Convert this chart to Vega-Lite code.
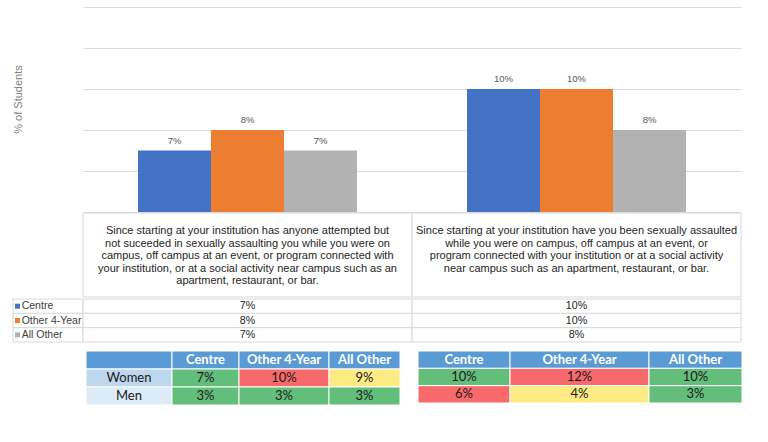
{
  "$schema": "https://vega.github.io/schema/vega-lite/v6.json",
  "padding": {"left": 12, "top": 7, "right": 10, "bottom": 10},
  "background": "white",
  "config": {"view": {"stroke": null}, "font": "Liberation Sans"},
  "datasets": {
    "bars": [
      {"question": "Q1", "group": "Centre", "value": 0.07},
      {"question": "Q1", "group": "Other 4-Year", "value": 0.08},
      {"question": "Q1", "group": "All Other", "value": 0.07},
      {"question": "Q2", "group": "Centre", "value": 0.10},
      {"question": "Q2", "group": "Other 4-Year", "value": 0.10},
      {"question": "Q2", "group": "All Other", "value": 0.08}
    ],
    "questions": [
      {"question": "Q1", "text": "Since starting at your institution has anyone attempted but\nnot suceeded in sexually assaulting you while you were on\ncampus, off campus at an event, or program connected with\nyour institution, or at a social activity near campus such as an\napartment, restaurant, or bar."},
      {"question": "Q2", "text": "Since starting at your institution have you been sexually assaulted\nwhile you were on campus, off campus at an event, or\nprogram connected with your institution or at a social activity\nnear campus such as an apartment, restaurant, or bar."}
    ],
    "groups": [{"group": "Centre"}, {"group": "Other 4-Year"}, {"group": "All Other"}],
    "cells": [
      {"tbl": "L", "col": "label", "row": "header", "label": "", "status": "header"},
      {"tbl": "L", "col": "label", "row": "Women", "label": "Women", "status": "labelW"},
      {"tbl": "L", "col": "label", "row": "Men", "label": "Men", "status": "labelM"},
      {"tbl": "L", "col": "Centre", "row": "header", "label": "Centre", "status": "header"},
      {"tbl": "L", "col": "Centre", "row": "Women", "label": "7%", "status": "green"},
      {"tbl": "L", "col": "Centre", "row": "Men", "label": "3%", "status": "green"},
      {"tbl": "L", "col": "Other 4-Year", "row": "header", "label": "Other 4-Year", "status": "header"},
      {"tbl": "L", "col": "Other 4-Year", "row": "Women", "label": "10%", "status": "red"},
      {"tbl": "L", "col": "Other 4-Year", "row": "Men", "label": "3%", "status": "green"},
      {"tbl": "L", "col": "All Other", "row": "header", "label": "All Other", "status": "header"},
      {"tbl": "L", "col": "All Other", "row": "Women", "label": "9%", "status": "yellow"},
      {"tbl": "L", "col": "All Other", "row": "Men", "label": "3%", "status": "green"},
      {"tbl": "R", "col": "Centre", "row": "header", "label": "Centre", "status": "header"},
      {"tbl": "R", "col": "Centre", "row": "Women", "label": "10%", "status": "green"},
      {"tbl": "R", "col": "Centre", "row": "Men", "label": "6%", "status": "red"},
      {"tbl": "R", "col": "Other 4-Year", "row": "header", "label": "Other 4-Year", "status": "header"},
      {"tbl": "R", "col": "Other 4-Year", "row": "Women", "label": "12%", "status": "red"},
      {"tbl": "R", "col": "Other 4-Year", "row": "Men", "label": "4%", "status": "yellow"},
      {"tbl": "R", "col": "All Other", "row": "header", "label": "All Other", "status": "header"},
      {"tbl": "R", "col": "All Other", "row": "Women", "label": "10%", "status": "green"},
      {"tbl": "R", "col": "All Other", "row": "Men", "label": "3%", "status": "green"}
    ]
  },
  "spacing": 0,
  "bounds": "full",
  "vconcat": [
    {
      "spacing": 0, "bounds": "flush",
      "hconcat": [
        {"width": 70, "height": 205, "data": {"values": [{}]}, "mark": {"type": "point", "opacity": 0}},
        {
          "width": 658, "height": 205,
          "data": {"name": "bars"},
          "encoding": {
            "x": {"field": "question", "type": "nominal", "scale": {"domain": ["Q1", "Q2"], "paddingInner": 0.3344, "paddingOuter": 0.1672}, "axis": null},
            "xOffset": {"field": "group", "type": "nominal", "scale": {"domain": ["Centre", "Other 4-Year", "All Other"], "paddingInner": 0, "paddingOuter": 0}},
            "y": {"field": "value", "type": "quantitative", "scale": {"domain": [0.04, 0.14], "zero": false, "nice": false},
              "axis": {"title": "% of Students", "labels": false, "ticks": false, "domain": false, "grid": true, "gridColor": "#dcdcdc", "values": [0.04, 0.06, 0.08, 0.10, 0.12, 0.14], "titleFontSize": 11, "titleFontWeight": "normal", "titleColor": "#808080", "titlePadding": 60, "titleY": 92}}
          },
          "layer": [
            {"mark": {"type": "bar"}, "encoding": {"y2": {"datum": 0.04},
              "color": {"field": "group", "type": "nominal", "scale": {"domain": ["Centre", "Other 4-Year", "All Other"], "range": ["#4472C4", "#ED7D31", "#B2B2B2"]}, "legend": null}}},
            {"mark": {"type": "text", "baseline": "bottom", "dy": -5, "fontSize": 9.5, "color": "#595959"},
              "encoding": {"text": {"field": "value", "type": "quantitative", "format": ".0%"}}}
          ]
        }
      ]
    },
    {
      "spacing": 0, "bounds": "flush",
      "hconcat": [
        {"width": 70, "height": 84, "data": {"values": [{}]}, "mark": {"type": "point", "opacity": 0}},
        {
          "width": 658, "height": 84,
          "data": {"name": "questions"},
          "encoding": {"x": {"field": "question", "type": "nominal", "scale": {"domain": ["Q1", "Q2"], "paddingInner": 0, "paddingOuter": 0}, "axis": null}},
          "layer": [
            {"mark": {"type": "rect", "fill": "white", "stroke": "#d9d9d9", "strokeWidth": 1}},
            {"mark": {"type": "text", "baseline": "top", "lineBreak": "\n", "lineHeight": 12.5, "fontSize": 11, "color": "#262626", "dy": -30},
              "encoding": {"text": {"field": "text", "type": "nominal"}}}
          ]
        }
      ]
    },
    {
      "spacing": 0, "bounds": "flush",
      "hconcat": [
        {
          "width": 70, "height": 43,
          "data": {"name": "groups"},
          "encoding": {"y": {"field": "group", "type": "nominal", "scale": {"domain": ["Centre", "Other 4-Year", "All Other"], "paddingInner": 0, "paddingOuter": 0}, "axis": null}},
          "layer": [
            {"mark": {"type": "rect", "fill": "white", "stroke": "#d9d9d9", "strokeWidth": 1}},
            {"mark": {"type": "point", "shape": "square", "filled": true, "size": 25, "opacity": 1, "xOffset": -30.5},
              "encoding": {"color": {"field": "group", "type": "nominal", "scale": {"domain": ["Centre", "Other 4-Year", "All Other"], "range": ["#4472C4", "#ED7D31", "#B2B2B2"]}, "legend": null}}},
            {"mark": {"type": "text", "align": "left", "dx": -26.3, "fontSize": 10.5, "color": "#404040"},
              "encoding": {"text": {"field": "group", "type": "nominal"}}}
          ]
        },
        {
          "width": 658, "height": 43,
          "data": {"name": "bars"},
          "encoding": {
            "x": {"field": "question", "type": "nominal", "scale": {"domain": ["Q1", "Q2"], "paddingInner": 0, "paddingOuter": 0}, "axis": null},
            "y": {"field": "group", "type": "nominal", "scale": {"domain": ["Centre", "Other 4-Year", "All Other"], "paddingInner": 0, "paddingOuter": 0}, "axis": null}
          },
          "layer": [
            {"mark": {"type": "rect", "fill": "white", "stroke": "#d9d9d9", "strokeWidth": 1}},
            {"mark": {"type": "text", "fontSize": 10.7, "color": "#262626"},
              "encoding": {"text": {"field": "value", "type": "quantitative", "format": ".0%"}}}
          ]
        }
      ]
    },
    {"width": 10, "height": 5, "data": {"values": [{}]}, "mark": {"type": "point", "opacity": 0}},
    {
      "spacing": 0, "bounds": "flush",
      "hconcat": [
        {"width": 73, "height": 54, "data": {"values": [{}]}, "mark": {"type": "point", "opacity": 0}},
        {
          "width": 86, "height": 54, "data": {"name": "cells"},
          "transform": [{"filter": "datum.tbl === 'L' && datum.col === 'label'"}],
          "encoding": {"y": {"field": "row", "type": "nominal", "scale": {"domain": ["header", "Women", "Men"], "paddingInner": 0, "paddingOuter": 0}, "axis": null}},
          "layer": [
            {"mark": {"type": "rect", "stroke": "white", "strokeWidth": 1}, "encoding": {"fill": {"field": "status", "type": "nominal", "scale": {"domain": ["header", "labelW", "labelM", "green", "red", "yellow"], "range": ["#5B9BD5", "#BDD7EE", "#DDEBF7", "#63BE7B", "#F8696B", "#FFEB84"]}, "legend": null}}},
            {"transform": [{"filter": "datum.row === 'header'"}], "mark": {"type": "text", "font": "Lato", "fontSize": 13, "fontWeight": "bold", "color": "white"}, "encoding": {"text": {"field": "label", "type": "nominal"}}},
            {"transform": [{"filter": "datum.row !== 'header'"}], "mark": {"type": "text", "font": "Lato", "fontSize": 13, "color": "#1a1a1a"}, "encoding": {"text": {"field": "label", "type": "nominal"}}}
          ]
        },
        {
          "width": 67, "height": 54, "data": {"name": "cells"},
          "transform": [{"filter": "datum.tbl === 'L' && datum.col === 'Centre'"}],
          "encoding": {"y": {"field": "row", "type": "nominal", "scale": {"domain": ["header", "Women", "Men"], "paddingInner": 0, "paddingOuter": 0}, "axis": null}},
          "layer": [
            {"mark": {"type": "rect", "stroke": "white", "strokeWidth": 1}, "encoding": {"fill": {"field": "status", "type": "nominal", "scale": {"domain": ["header", "labelW", "labelM", "green", "red", "yellow"], "range": ["#5B9BD5", "#BDD7EE", "#DDEBF7", "#63BE7B", "#F8696B", "#FFEB84"]}, "legend": null}}},
            {"transform": [{"filter": "datum.row === 'header'"}], "mark": {"type": "text", "font": "Lato", "fontSize": 13, "fontWeight": "bold", "color": "white"}, "encoding": {"text": {"field": "label", "type": "nominal"}}},
            {"transform": [{"filter": "datum.row !== 'header'"}], "mark": {"type": "text", "font": "Lato", "fontSize": 13, "color": "#1a1a1a"}, "encoding": {"text": {"field": "label", "type": "nominal"}}}
          ]
        },
        {
          "width": 90, "height": 54, "data": {"name": "cells"},
          "transform": [{"filter": "datum.tbl === 'L' && datum.col === 'Other 4-Year'"}],
          "encoding": {"y": {"field": "row", "type": "nominal", "scale": {"domain": ["header", "Women", "Men"], "paddingInner": 0, "paddingOuter": 0}, "axis": null}},
          "layer": [
            {"mark": {"type": "rect", "stroke": "white", "strokeWidth": 1}, "encoding": {"fill": {"field": "status", "type": "nominal", "scale": {"domain": ["header", "labelW", "labelM", "green", "red", "yellow"], "range": ["#5B9BD5", "#BDD7EE", "#DDEBF7", "#63BE7B", "#F8696B", "#FFEB84"]}, "legend": null}}},
            {"transform": [{"filter": "datum.row === 'header'"}], "mark": {"type": "text", "font": "Lato", "fontSize": 13, "fontWeight": "bold", "color": "white"}, "encoding": {"text": {"field": "label", "type": "nominal"}}},
            {"transform": [{"filter": "datum.row !== 'header'"}], "mark": {"type": "text", "font": "Lato", "fontSize": 13, "color": "#1a1a1a"}, "encoding": {"text": {"field": "label", "type": "nominal"}}}
          ]
        },
        {
          "width": 71, "height": 54, "data": {"name": "cells"},
          "transform": [{"filter": "datum.tbl === 'L' && datum.col === 'All Other'"}],
          "encoding": {"y": {"field": "row", "type": "nominal", "scale": {"domain": ["header", "Women", "Men"], "paddingInner": 0, "paddingOuter": 0}, "axis": null}},
          "layer": [
            {"mark": {"type": "rect", "stroke": "white", "strokeWidth": 1}, "encoding": {"fill": {"field": "status", "type": "nominal", "scale": {"domain": ["header", "labelW", "labelM", "green", "red", "yellow"], "range": ["#5B9BD5", "#BDD7EE", "#DDEBF7", "#63BE7B", "#F8696B", "#FFEB84"]}, "legend": null}}},
            {"transform": [{"filter": "datum.row === 'header'"}], "mark": {"type": "text", "font": "Lato", "fontSize": 13, "fontWeight": "bold", "color": "white"}, "encoding": {"text": {"field": "label", "type": "nominal"}}},
            {"transform": [{"filter": "datum.row !== 'header'"}], "mark": {"type": "text", "font": "Lato", "fontSize": 13, "color": "#1a1a1a"}, "encoding": {"text": {"field": "label", "type": "nominal"}}}
          ]
        },
        {"width": 18, "height": 52, "data": {"values": [{}]}, "mark": {"type": "point", "opacity": 0}},
        {
          "width": 92, "height": 52, "data": {"name": "cells"},
          "transform": [{"filter": "datum.tbl === 'R' && datum.col === 'Centre'"}],
          "encoding": {"y": {"field": "row", "type": "nominal", "scale": {"domain": ["header", "Women", "Men"], "paddingInner": 0, "paddingOuter": 0}, "axis": null}},
          "layer": [
            {"mark": {"type": "rect", "stroke": "white", "strokeWidth": 1}, "encoding": {"fill": {"field": "status", "type": "nominal", "scale": {"domain": ["header", "labelW", "labelM", "green", "red", "yellow"], "range": ["#5B9BD5", "#BDD7EE", "#DDEBF7", "#63BE7B", "#F8696B", "#FFEB84"]}, "legend": null}}},
            {"transform": [{"filter": "datum.row === 'header'"}], "mark": {"type": "text", "font": "Lato", "fontSize": 13, "fontWeight": "bold", "color": "white"}, "encoding": {"text": {"field": "label", "type": "nominal"}}},
            {"transform": [{"filter": "datum.row !== 'header'"}], "mark": {"type": "text", "font": "Lato", "fontSize": 13, "color": "#1a1a1a"}, "encoding": {"text": {"field": "label", "type": "nominal"}}}
          ]
        },
        {
          "width": 139, "height": 52, "data": {"name": "cells"},
          "transform": [{"filter": "datum.tbl === 'R' && datum.col === 'Other 4-Year'"}],
          "encoding": {"y": {"field": "row", "type": "nominal", "scale": {"domain": ["header", "Women", "Men"], "paddingInner": 0, "paddingOuter": 0}, "axis": null}},
          "layer": [
            {"mark": {"type": "rect", "stroke": "white", "strokeWidth": 1}, "encoding": {"fill": {"field": "status", "type": "nominal", "scale": {"domain": ["header", "labelW", "labelM", "green", "red", "yellow"], "range": ["#5B9BD5", "#BDD7EE", "#DDEBF7", "#63BE7B", "#F8696B", "#FFEB84"]}, "legend": null}}},
            {"transform": [{"filter": "datum.row === 'header'"}], "mark": {"type": "text", "font": "Lato", "fontSize": 13, "fontWeight": "bold", "color": "white"}, "encoding": {"text": {"field": "label", "type": "nominal"}}},
            {"transform": [{"filter": "datum.row !== 'header'"}], "mark": {"type": "text", "font": "Lato", "fontSize": 13, "color": "#1a1a1a"}, "encoding": {"text": {"field": "label", "type": "nominal"}}}
          ]
        },
        {
          "width": 93, "height": 52, "data": {"name": "cells"},
          "transform": [{"filter": "datum.tbl === 'R' && datum.col === 'All Other'"}],
          "encoding": {"y": {"field": "row", "type": "nominal", "scale": {"domain": ["header", "Women", "Men"], "paddingInner": 0, "paddingOuter": 0}, "axis": null}},
          "layer": [
            {"mark": {"type": "rect", "stroke": "white", "strokeWidth": 1}, "encoding": {"fill": {"field": "status", "type": "nominal", "scale": {"domain": ["header", "labelW", "labelM", "green", "red", "yellow"], "range": ["#5B9BD5", "#BDD7EE", "#DDEBF7", "#63BE7B", "#F8696B", "#FFEB84"]}, "legend": null}}},
            {"transform": [{"filter": "datum.row === 'header'"}], "mark": {"type": "text", "font": "Lato", "fontSize": 13, "fontWeight": "bold", "color": "white"}, "encoding": {"text": {"field": "label", "type": "nominal"}}},
            {"transform": [{"filter": "datum.row !== 'header'"}], "mark": {"type": "text", "font": "Lato", "fontSize": 13, "color": "#1a1a1a"}, "encoding": {"text": {"field": "label", "type": "nominal"}}}
          ]
        }
      ]
    }
  ]
}
